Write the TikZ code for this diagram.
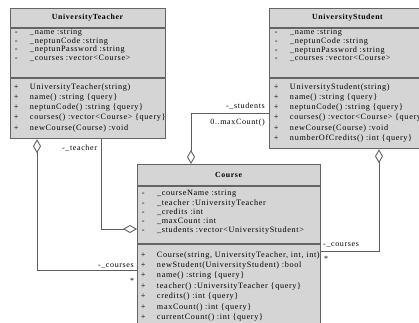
\documentclass[tikz,border=0pt]{standalone}
\usepackage{fontspec}
\setmainfont{Liberation Serif}[LetterSpace=8]
\usetikzlibrary{arrows.meta, positioning, calc}
\definecolor{boxfill}{RGB}{213,213,213}
\definecolor{boxline}{RGB}{100,100,100}
\definecolor{linkgray}{RGB}{95,95,95}
\newcommand{\vis}[2]{\makebox[16pt][l]{\makebox[4.4pt]{#1}}#2}

\begin{document}
\begin{tikzpicture}[x=1pt,y=-1pt,
    classbox/.style={draw=boxline,fill=boxfill,line width=1.2pt,inner sep=0pt,anchor=north west},
    classname/.style={font=\fontsize{7.8}{9}\selectfont\bfseries,inner sep=0pt},
    members/.style={align=left,inner sep=0pt,anchor=north west,font=\fontsize{8.2}{#1}\selectfont},
    rule/.style={draw=boxline,line width=1.2pt},
    link/.style={draw=linkgray,line width=0.9pt},
    role/.style={inner sep=0pt,font=\fontsize{8}{9}\selectfont},
    aggr/.tip={Diamond[fill=white,length=14pt,width=8pt]}]
    \useasboundingbox (0,0) rectangle (419,322);
    \clip (0,0) rectangle (419,322);
    % UniversityTeacher
    \node[classbox,minimum width=155pt,minimum height=130pt] (teacher) at (10,8) {};
    \node[classname] (teachername) at (87.5,18) {UniversityTeacher};
    \draw[rule] (teacher.west |- 0,28) -- (teacher.east |- 0,28);
    \draw[rule] (teacher.west |- 0,78) -- (teacher.east |- 0,78);
    \node[members=8.5] (teacherattr) at (13.8,29.2) {\vis{-}{\_name :string}\\
        \vis{-}{\_neptunCode :string}\\ \vis{-}{\_neptunPassword :string}\\
        \vis{-}{\_courses :vector<Course>}};
    \node[members=10.3] (teacherops) at (13.8,83.2) {\vis{+}{UniversityTeacher(string)}\\
        \vis{+}{name() :string \{query\}}\\ \vis{+}{neptunCode() :string \{query\}}\\
        \vis{+}{courses() :vector<Course> \{query\}}\\ \vis{+}{newCourse(Course) :void}};
    % UniversityStudent
    \node[classbox,minimum width=157pt,minimum height=140pt] (student) at (269,8) {};
    \node[classname] (studentname) at (347.5,18) {UniversityStudent};
    \draw[rule] (student.west |- 0,28) -- (student.east |- 0,28);
    \draw[rule] (student.west |- 0,78) -- (student.east |- 0,78);
    \node[members=8.7] (studentattr) at (273.8,29.2) {\vis{-}{\_name :string}\\
        \vis{-}{\_neptunCode :string}\\ \vis{-}{\_neptunPassword :string}\\
        \vis{-}{\_courses :vector<Course>}};
    \node[members=10.3] (studentops) at (273.8,83.2) {\vis{+}{UniversityStudent(string)}\\
        \vis{+}{name() :string \{query\}}\\ \vis{+}{neptunCode() :string \{query\}}\\
        \vis{+}{courses() :vector<Course> \{query\}}\\ \vis{+}{newCourse(Course) :void}\\
        \vis{+}{numberOfCredits() :int \{query\}}};
    % Course
    \node[classbox,minimum width=183pt,minimum height=180pt] (course) at (137,164) {};
    \node[classname] (coursename) at (228.5,175) {Course};
    \draw[rule] (course.west |- 0,186) -- (course.east |- 0,186);
    \draw[rule] (course.west |- 0,244) -- (course.east |- 0,244);
    \node[members=9.25] (courseattr) at (140.8,190.2) {\vis{-}{\_courseName :string}\\
        \vis{-}{\_teacher :UniversityTeacher}\\ \vis{-}{\_credits :int}\\
        \vis{-}{\_maxCount :int}\\ \vis{-}{\_students :vector<UniversityStudent>}};
    \node[members=10.4] (courseops) at (140.8,251.2) {\vis{+}{Course(string, UniversityTeacher, int, int)}\\
        \vis{+}{newStudent(UniversityStudent) :bool}\\ \vis{+}{name() :string \{query\}}\\
        \vis{+}{teacher() :UniversityTeacher \{query\}}\\ \vis{+}{credits() :int \{query\}}\\
        \vis{+}{maxCount() :int \{query\}}\\ \vis{+}{currentCount() :int \{query\}}};
    % aggregations
    \draw[link,-aggr] (teacher.south -| 101,0) |- (course.west |- 0,229);
    \draw[link,aggr-] (teacher.south -| 37,0) |- (course.west |- 0,270);
    \draw[link,-aggr] (student.west |- 0,113) -| (course.north -| 191,0);
    \draw[link,aggr-] (student.south -| 379,0) |- (course.east |- 0,251);
    \node[role,anchor=base] (teacherrole) at (79.5,150) {-\_teacher};
    \node[role,anchor=base east] (tcoursesrole) at (134,267) {-\_courses};
    \node[role] (tcoursesmult) at (132,281) {*};
    \node[role,anchor=base east] (studentsrole) at (265,108) {-\_students};
    \node[role,anchor=base east] (studentsmult) at (265,124) {0..maxCount()};
    \node[role,anchor=base west] (scoursesrole) at (323,246) {-\_courses};
    \node[role] (scoursesmult) at (326,259) {*};
\end{tikzpicture}
\end{document}
